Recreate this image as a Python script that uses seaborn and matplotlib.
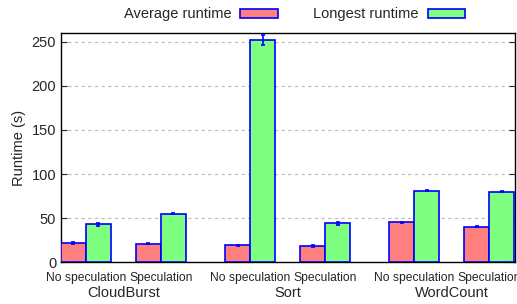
import numpy as np
import pandas as pd
import matplotlib
matplotlib.use('Agg')
import matplotlib.pyplot as plt
import seaborn as sns

# Data
benchmarks = ['CloudBurst', 'Sort', 'WordCount']
modes = ['No speculation', 'Speculation']
avg_runtime = [22, 21, 19, 18, 45, 40]
avg_err = [1.0, 0.6, 0.8, 0.8, 0.7, 0.7]
longest_runtime = [43, 55, 252, 44, 81, 80]
longest_err = [1.5, 0.6, 6.0, 1.5, 0.7, 0.6]

# Layout
GROUP_GAP = 0.19
BAR_W = 1 / 3
pos = [g * (2 + GROUP_GAP) + m for g in range(len(benchmarks)) for m in range(len(modes))]

df = pd.DataFrame({
    'pos': pos * 2,
    'Runtime': avg_runtime + longest_runtime,
    'Metric': ['Average runtime'] * 6 + ['Longest runtime'] * 6,
})

sns.set_style('white')
plt.rcParams['font.family'] = ['Liberation Sans', 'DejaVu Sans']

fig = plt.figure(figsize=(5.17, 3.04), dpi=100)
ax = fig.add_axes([0.118, 0.138, 0.878, 0.753])

sns.barplot(data=df, x='pos', y='Runtime', hue='Metric', native_scale=True,
            palette=['#ff7f7f', '#7fff7f'], saturation=1, width=2 * BAR_W,
            errorbar=None, edgecolor='#0000ff', linewidth=1.2, ax=ax,
            legend=True, zorder=3)

# error bars at the bar centres
x_avg = [p - BAR_W / 2 for p in pos]
x_long = [p + BAR_W / 2 for p in pos]
ax.errorbar(x_avg, avg_runtime, yerr=avg_err, fmt='none', ecolor='#0000ff',
            elinewidth=1.2, capsize=1.5, capthick=1.2, zorder=4)
ax.errorbar(x_long, longest_runtime, yerr=longest_err, fmt='none', ecolor='#0000ff',
            elinewidth=1.2, capsize=1.5, capthick=1.2, zorder=4)

ax.set_xlim(pos[0] - BAR_W, pos[-1] + BAR_W + 0.01)
ax.set_ylim(0, 260)
ax.set_yticks(np.arange(0, 251, 50))
ax.yaxis.grid(True, linestyle=(0, (3, 3)), color='#bbbbbb', linewidth=0.8)
ax.set_axisbelow(True)

ax.set_xticks(pos)
ax.set_xticklabels(modes * len(benchmarks), fontsize=8.7)
ax.tick_params(axis='x', length=0, pad=7)
ax.tick_params(axis='y', direction='in', length=4, labelsize=10.5, left=True, right=True)
for s in ax.spines.values():
    s.set_color('black')
    s.set_linewidth(1.0)

ax.set_xlabel('')
ax.set_ylabel('Runtime (s)', fontsize=10.5)

# benchmark names under each pair
for g, name in enumerate(benchmarks):
    cx = (pos[2 * g] + pos[2 * g + 1]) / 2
    ax.text(cx, -0.135, name, transform=ax.get_xaxis_transform(),
            ha='center', va='center', fontsize=10.5)

ax.get_legend().remove()
handles, labels = ax.get_legend_handles_labels()
fig.legend(handles, labels, ncol=2, loc='center', bbox_to_anchor=(0.57, 0.953),
           frameon=False, markerfirst=False, handlelength=2.6, handleheight=0.55,
           columnspacing=2.4, handletextpad=0.6, fontsize=10.5)

fig.savefig('out.png', dpi=100)
